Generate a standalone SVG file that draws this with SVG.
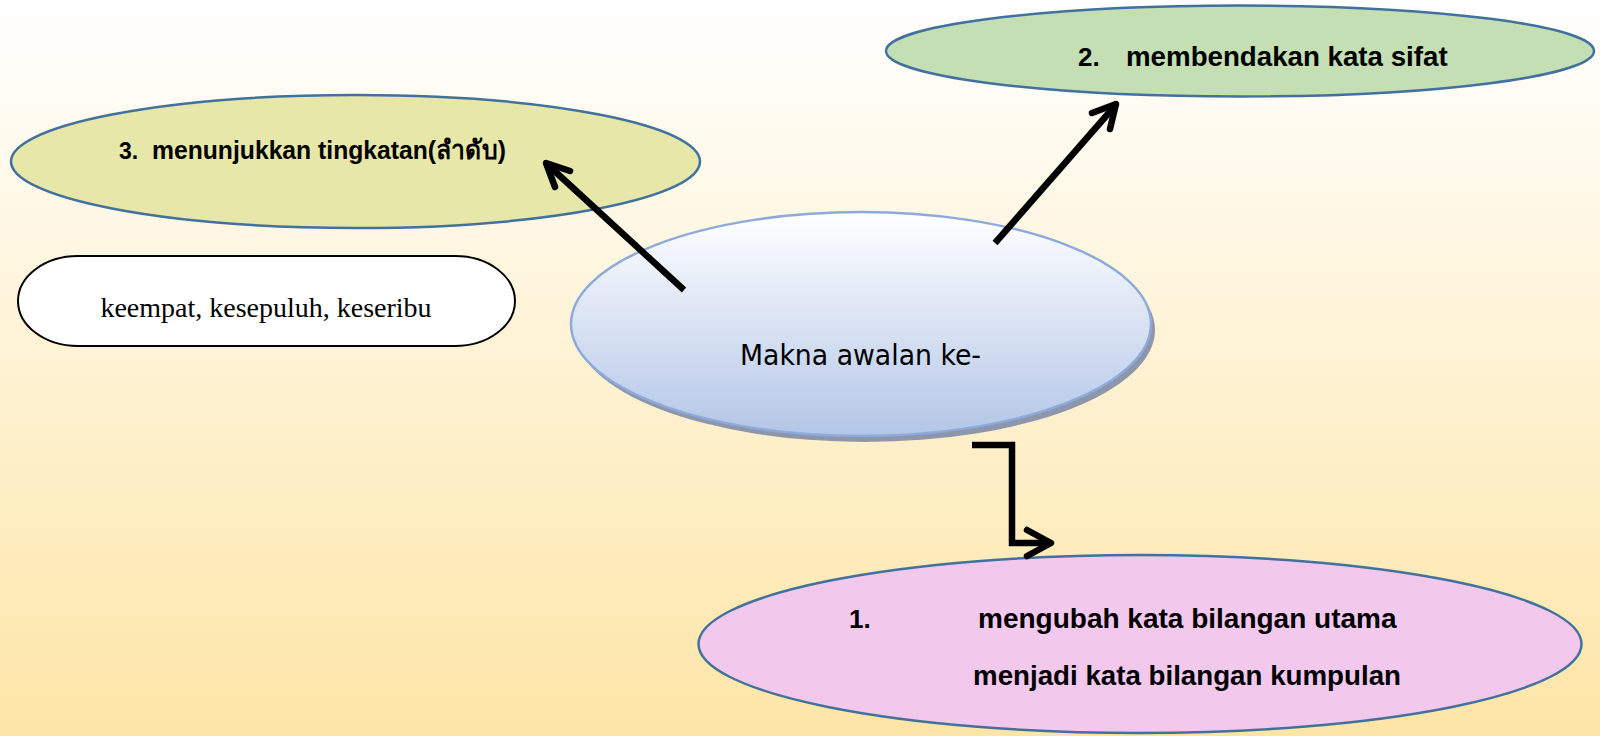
<svg xmlns="http://www.w3.org/2000/svg" width="1600" height="736" viewBox="0 0 1600 736">
<defs>
<linearGradient id="bg" x1="0" y1="0" x2="0" y2="1">
<stop offset="0" stop-color="#ffffff"/>
<stop offset="1" stop-color="#fde5a6"/>
</linearGradient>
<linearGradient id="cg" x1="0" y1="0" x2="0" y2="1">
<stop offset="0" stop-color="#ffffff"/>
<stop offset="1" stop-color="#b3c6e7"/>
</linearGradient>
<style>
.oval{stroke:#41719c;stroke-width:2.5}
.lbl{font-family:"Liberation Sans","Noto Sans","DejaVu Sans",sans-serif;font-weight:bold;fill:#000}
.con{fill:none;stroke:#000;stroke-width:6.5}
.head{fill:none;stroke:#000;stroke-width:6.5;stroke-linecap:round;stroke-linejoin:round}
</style>
</defs>
<rect x="0" y="0" width="1600" height="736" fill="url(#bg)"/>

<g id="node-3">
<ellipse class="oval" cx="355.5" cy="161.5" rx="344.5" ry="66.5" fill="#e6e7a9"/>
<text class="lbl" x="119" y="159" font-size="23">3.</text>
<text class="lbl" x="152" y="159" font-size="26" textLength="354" lengthAdjust="spacingAndGlyphs">menunjukkan tingkatan(ลำดับ)</text>
</g>

<g id="node-2">
<ellipse class="oval" cx="1240" cy="51" rx="354" ry="45.5" fill="#c5dfb4"/>
<text class="lbl" x="1078" y="66" font-size="26">2.</text>
<text class="lbl" x="1126" y="66" font-size="27.7">membendakan kata sifat</text>
</g>

<g id="node-example">
<rect x="18" y="256" width="497" height="90" rx="60" ry="45" fill="#ffffff" stroke="#000" stroke-width="2"/>
<text x="266" y="317" font-size="28" text-anchor="middle" font-family="'Liberation Serif','DejaVu Serif',serif" fill="#000">keempat, kesepuluh, keseribu</text>
</g>

<g id="node-center">
<ellipse cx="865" cy="330" rx="290" ry="112" fill="#8d96aa"/>
<ellipse cx="861" cy="324" rx="290" ry="112" fill="url(#cg)" stroke="#8eaadb" stroke-width="2.5"/>
<text x="740" y="365" font-size="28" font-family="'DejaVu Sans','Noto Sans',sans-serif" fill="#000" textLength="241" lengthAdjust="spacingAndGlyphs">Makna awalan ke-</text>
</g>

<g id="node-1">
<ellipse class="oval" cx="1140" cy="644" rx="441.5" ry="89" fill="#f2c8ec"/>
<text class="lbl" x="849" y="628" font-size="26">1.</text>
<text class="lbl" x="978" y="628" font-size="28">mengubah kata bilangan utama</text>
<text class="lbl" x="973" y="685" font-size="28" textLength="428" lengthAdjust="spacingAndGlyphs">menjadi kata bilangan kumpulan</text>
</g>

<g id="connectors">
<line class="con" x1="684" y1="290" x2="548" y2="165"/>
<polyline class="head" points="570,171 546,163 555,187"/>
<line class="con" x1="995" y1="243" x2="1114" y2="107"/>
<polyline class="head" points="1092,113 1116,104 1110,129"/>
<polyline class="con" points="972,445 1012,445 1012,543 1048,543"/>
<polyline class="head" points="1027,530 1051,543 1027,556"/>
</g>
</svg>
